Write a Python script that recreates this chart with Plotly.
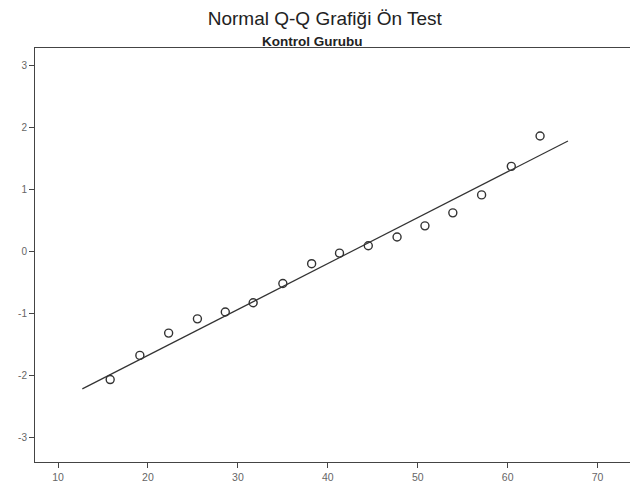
import plotly.graph_objects as go

# Observed values (x) and expected normal values (y)
obs_x = [15.8, 19.1, 22.3, 25.5, 28.6, 31.7, 35.0, 38.2, 41.3, 44.5, 47.7, 50.8, 53.9, 57.1, 60.4, 63.6]
exp_y = [-2.06, -1.67, -1.31, -1.08, -0.97, -0.82, -0.51, -0.19, -0.02, 0.10, 0.24, 0.42, 0.63, 0.92, 1.38, 1.87]

# Reference line endpoints
line_x = [12.7, 66.7]
line_y = [-2.21, 1.79]

x_ticks = [10, 20, 30, 40, 50, 60, 70]
y_ticks = [-3, -2, -1, 0, 1, 2, 3]
y_tick_labels = ["-3", "-2", "-1", "0", "1", "2", "3"]

fig = go.Figure()
fig.add_trace(go.Scatter(x=line_x, y=line_y, mode="lines",
                         line=dict(color="#333333", width=1.2), showlegend=False))
fig.add_trace(go.Scatter(x=obs_x, y=exp_y, mode="markers",
                         marker=dict(symbol="circle-open", size=8, color="#333333",
                                     line=dict(width=1.4, color="#333333")),
                         showlegend=False))

fig.update_layout(
    width=630, height=497,
    margin=dict(l=35, r=0, t=48, b=35, autoexpand=False),
    paper_bgcolor="white", plot_bgcolor="white",
    font=dict(family="Liberation Sans, Arial", color="#444444"),
    title=dict(text="Normal Q-Q Grafiği Ön Test", x=0.487, xanchor="center",
               xref="paper", y=1 - 18 / 497, yref="container", yanchor="middle",
               font=dict(size=19, color="#222222", family="Liberation Sans, Arial")),
    annotations=[dict(text="<b>Kontrol Gurubu</b>", xref="paper", yref="paper",
                      x=0.465, y=1.0, yshift=7, xanchor="center", yanchor="middle",
                      showarrow=False,
                      font=dict(size=13.5, color="#222222",
                                family="Liberation Sans Narrow, Liberation Sans, Arial"))],
    xaxis=dict(range=[7.44, 73.6], tickvals=x_ticks, ticks="outside", ticklen=5,
               tickcolor="#444444", showgrid=False, zeroline=False, automargin=False,
               showline=True, linecolor="#444444", linewidth=1, mirror=True,
               tickfont=dict(size=10.5, color="#666666")),
    yaxis=dict(range=[-3.39, 3.29], tickvals=y_ticks, ticktext=y_tick_labels,
               ticks="outside", ticklen=5,
               tickcolor="#444444", showgrid=False, zeroline=False, automargin=False,
               showline=True, linecolor="#444444", linewidth=1, mirror=True,
               tickfont=dict(size=10, color="#666666")),
)

fig.write_html("out.html", config={"displayModeBar": False},
               post_script="document.body.style.margin='0';document.body.style.overflow='hidden';")
